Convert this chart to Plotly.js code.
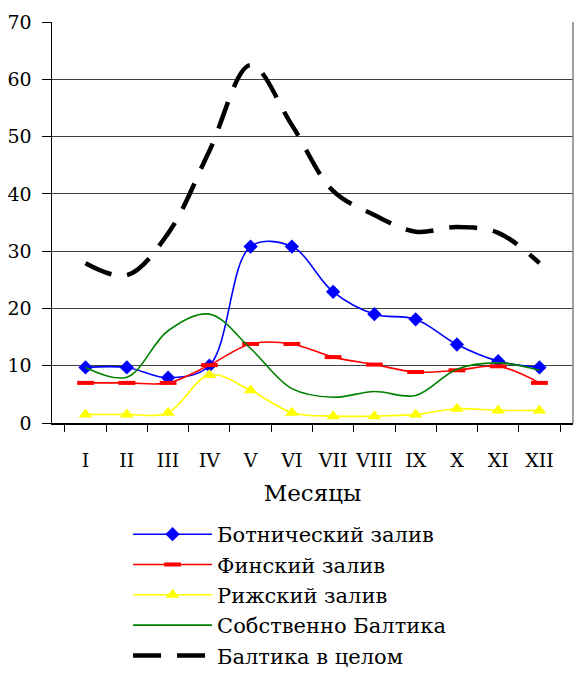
<!DOCTYPE html>
<html>
<head>
<meta charset="utf-8">
<script src="https://cdn.plot.ly/plotly-3.0.1.min.js"></script>
<style>
  html, body { margin: 0; padding: 0; background: #fff; }
  #chart { width: 574px; height: 675px; }
</style>
</head>
<body>
<div id="chart"></div>
<script>
// Months (Roman numerals)
const months = ['I', 'II', 'III', 'IV', 'V', 'VI', 'VII', 'VIII', 'IX', 'X', 'XI', 'XII'];

// Monthly values by basin
const bothnia   = [9.7, 9.7, 7.9, 10.0, 30.8, 30.8, 22.9, 19.0, 18.1, 13.7, 10.8, 9.7];
const finland   = [7.0, 7.0, 7.0, 10.1, 13.8, 13.8, 11.5, 10.2, 8.9, 9.2, 9.9, 7.0];
const riga      = [1.5, 1.5, 1.8, 8.4, 5.7, 1.8, 1.2, 1.2, 1.5, 2.5, 2.2, 2.2];
const baltProp  = [9.7, 8.0, 16.1, 19.0, 13.0, 6.0, 4.5, 5.5, 4.8, 9.4, 10.5, 9.2];
const baltTotal = [27.9, 25.8, 33.1, 47.5, 62.5, 52.0, 40.5, 36.3, 33.4, 34.2, 33.2, 27.9];

const names = ['Ботнический залив', 'Финский залив', 'Рижский залив', 'Собственно Балтика', 'Балтика в целом'];

const serif = 'DejaVu Serif';

const traces = [
  {
    x: months, y: bothnia, name: names[0], type: 'scatter', mode: 'lines+markers',
    line: { color: '#0000ff', width: 1.6, shape: 'spline', smoothing: 1 },
    marker: { symbol: 'diamond', size: 11, color: '#0000ff' }
  },
  {
    x: months, y: finland, name: names[1], type: 'scatter', mode: 'lines+markers',
    line: { color: '#ff0000', width: 1.6, shape: 'spline', smoothing: 1 },
    marker: { symbol: 'line-ew', size: 12, color: '#ff0000', line: { color: '#ff0000', width: 4 } }
  },
  {
    x: months, y: riga, name: names[2], type: 'scatter', mode: 'lines+markers',
    line: { color: '#ffff00', width: 1.6, shape: 'spline', smoothing: 1 },
    marker: { symbol: 'triangle-up', size: 12, color: '#ffff00' }
  },
  {
    x: months, y: baltProp, name: names[3], type: 'scatter', mode: 'lines',
    line: { color: '#008000', width: 1.6, shape: 'spline', smoothing: 1 }
  },
  {
    x: months, y: baltTotal, name: names[4], type: 'scatter', mode: 'lines',
    line: { color: '#000000', width: 4.5, shape: 'spline', smoothing: 1, dash: '28px,16px' }
  }
];

const layout = {
  width: 574, height: 675,
  margin: { l: 52, r: 1, t: 22, b: 252, autoexpand: false },
  paper_bgcolor: '#ffffff', plot_bgcolor: '#ffffff',
  font: { family: serif, size: 20, color: '#000' },
  showlegend: true,
  legend: {
    orientation: 'v', x: 0.146, xanchor: 'left', y: -0.227, yanchor: 'top',
    font: { family: serif, size: 21, color: '#000' },
    itemwidth: 79, tracegroupgap: 0, bgcolor: 'rgba(0,0,0,0)'
  },
  xaxis: {
    type: 'category', tickson: 'boundaries', showgrid: false,
    showline: true, linecolor: '#000', linewidth: 1.5,
    ticks: 'outside', ticklen: 7, tickcolor: '#000', tickangle: 0, ticklabelstandoff: 20,
    tickfont: { family: serif, size: 19 }, automargin: false,
    title: { text: 'Месяцы', font: { family: serif, size: 23 }, standoff: 14 },
    fixedrange: true
  },
  yaxis: {
    range: [0, 70], dtick: 10, showgrid: true, gridcolor: '#404040', gridwidth: 1,
    zeroline: false, showline: true, linecolor: '#000', linewidth: 1.5,
    ticks: 'outside', ticklen: 9, tickcolor: '#000', ticklabelstandoff: 6,
    tickfont: { family: serif, size: 19 }, automargin: false,
    fixedrange: true
  },
  shapes: [
    { type: 'line', xref: 'paper', yref: 'paper', x0: 1, x1: 1, y0: 0, y1: 1,
      line: { color: '#808080', width: 1.5 } }
  ]
};

Plotly.newPlot('chart', traces, layout, { displayModeBar: false, staticPlot: true });
</script>
</body>
</html>
